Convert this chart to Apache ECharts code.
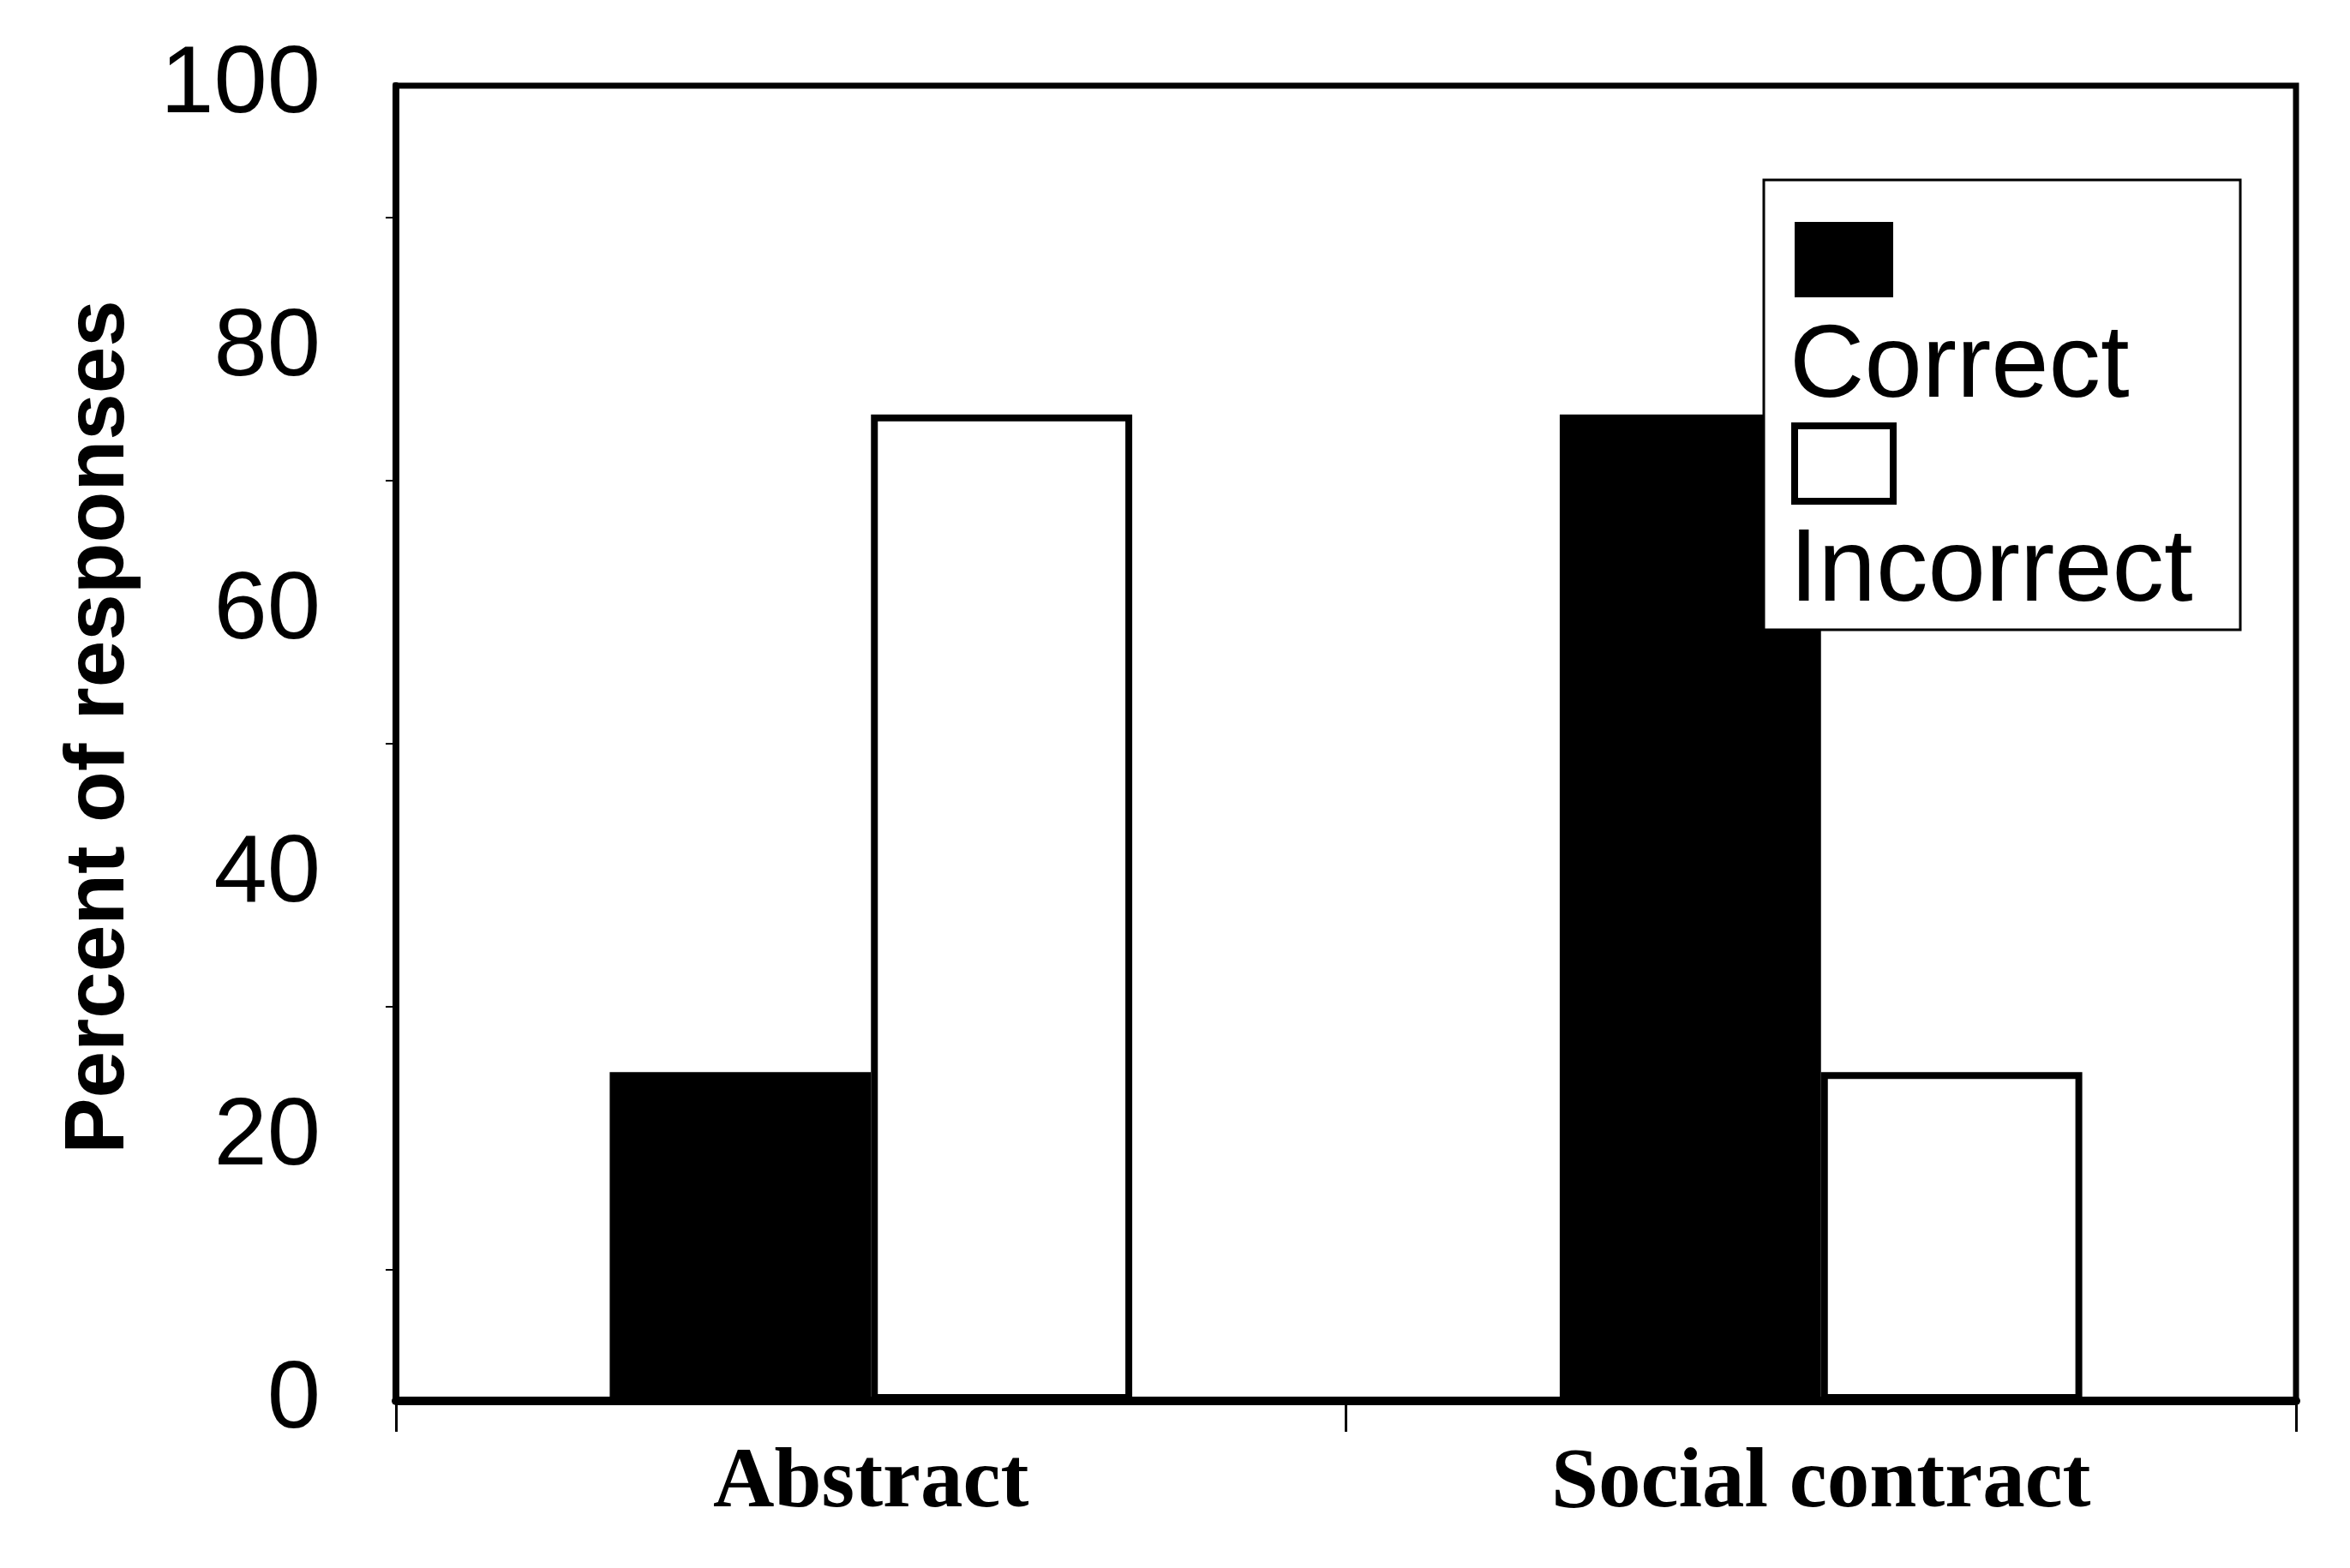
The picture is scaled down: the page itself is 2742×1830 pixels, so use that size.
<!DOCTYPE html>
<html>
<head>
<meta charset="utf-8">
<script src="https://cdn.jsdelivr.net/npm/echarts@6/dist/echarts.min.js"></script>
<style>
  html, body { margin: 0; padding: 0; background: #fff; }
  #chart { width: 2742px; height: 1830px; }
</style>
</head>
<body>
<div id="chart"></div>
<script>
const categories = ['Abstract', 'Social contract'];
const seriesNames = ['Correct', 'Incorrect'];
const correctValues = [25, 75];
const incorrectValues = [75, 25];
const yTicks = [0, 20, 40, 60, 80, 100];

const chart = echarts.init(document.getElementById('chart'), null, { renderer: 'canvas' });

const option = {
  animation: false,
  backgroundColor: '#fff',
  grid: {
    left: 462, right: 63, top: 100, bottom: 195,
    show: true, borderColor: '#000', borderWidth: 7, backgroundColor: 'transparent'
  },
  xAxis: {
    type: 'category',
    data: categories,
    axisLine: { show: true, lineStyle: { color: '#000', width: 10 } },
    axisTick: { show: true, length: 36, lineStyle: { color: '#000', width: 3 } },
    axisLabel: {
      color: '#000', fontFamily: 'Liberation Serif', fontWeight: 'bold',
      fontSize: 99, margin: 48
    },
    splitLine: { show: false }
  },
  yAxis: {
    type: 'value',
    min: yTicks[0], max: yTicks[yTicks.length - 1], interval: 20,
    name: 'Percent of responses',
    nameLocation: 'middle',
    nameGap: 296,
    nameTextStyle: {
      color: '#000', fontFamily: 'Liberation Sans', fontWeight: 'bold', fontSize: 98,
      padding: [0, 0, 0, 38]
    },
    axisLine: { show: true, lineStyle: { color: '#000', width: 8 } },
    axisTick: { show: false },
    minorTick: { show: true, splitNumber: 2, length: 12, lineStyle: { color: '#000', width: 2 } },
    splitLine: { show: false },
    minorSplitLine: { show: false },
    axisLabel: {
      color: '#000', fontFamily: 'Liberation Sans', fontSize: 112, margin: 88
    }
  },
  legend: [
    {
      id: 'icons',
      orient: 'vertical',
      left: 2058, top: 210,
      itemWidth: 115, itemHeight: 88, itemGap: 146,
      padding: [49, 401, 146, 32],
      backgroundColor: '#fff', borderColor: '#000', borderWidth: 3, borderRadius: 0,
      icon: 'rect',
      formatter: function () { return ''; },
      textStyle: { fontSize: 10 },
      z: 4,
      data: [
        { name: seriesNames[0], itemStyle: { color: '#000', borderWidth: 0 } },
        { name: seriesNames[1], itemStyle: { color: '#fff', borderColor: '#000', borderWidth: 8 } }
      ]
    },
    {
      id: 'labels',
      orient: 'vertical',
      left: 2083, top: 360,
      itemWidth: 0, itemHeight: 0, itemGap: 98,
      padding: 0,
      icon: 'rect',
      textStyle: { color: '#000', fontFamily: 'Liberation Sans', fontSize: 121, lineHeight: 140 },
      z: 5,
      data: [
        { name: seriesNames[0], itemStyle: { opacity: 0, borderWidth: 0 } },
        { name: seriesNames[1], itemStyle: { opacity: 0, borderWidth: 0 } }
      ]
    }
  ],
  series: [
    {
      name: seriesNames[0],
      type: 'bar',
      data: correctValues,
      barGap: '0%',
      barCategoryGap: '45%',
      itemStyle: { color: '#000' },
      z: 2
    },
    {
      name: seriesNames[1],
      type: 'bar',
      data: incorrectValues,
      itemStyle: { color: '#fff', borderColor: '#000', borderWidth: 8 },
      z: 2
    }
  ]
};

chart.setOption(option);
</script>
</body>
</html>
